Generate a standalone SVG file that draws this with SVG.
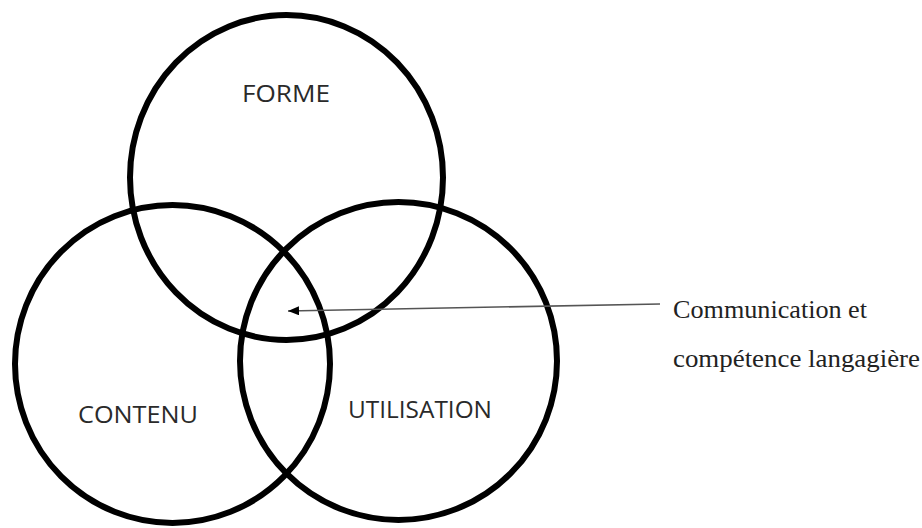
<svg xmlns="http://www.w3.org/2000/svg" width="922" height="528" viewBox="0 0 922 528">
<style>
.c{fill:none;stroke:#000;stroke-width:6}
.lbl{font-family:"Open Sans","Liberation Sans",sans-serif;font-size:23px;fill:#2a2a2a}
.note{font-family:"Liberation Serif","DejaVu Serif",serif;font-size:25px;fill:#222}
</style>
<defs>
<marker id="ah" viewBox="0 0 11 9" refX="11" refY="4.5" markerWidth="11" markerHeight="9" markerUnits="userSpaceOnUse" orient="auto">
<path d="M0,0 L11,4.5 L0,9 Z" fill="#000"/>
</marker>
</defs>
<rect width="922" height="528" fill="#fff"/>
<g id="forme">
<ellipse class="c" cx="286.5" cy="177.5" rx="156.5" ry="162.5"/>
<text class="lbl" x="242" y="102" textLength="88" lengthAdjust="spacingAndGlyphs">FORME</text>
</g>
<g id="contenu">
<ellipse class="c" cx="172.5" cy="364" rx="157.5" ry="159"/>
<text class="lbl" x="78" y="423" textLength="120" lengthAdjust="spacingAndGlyphs">CONTENU</text>
</g>
<g id="utilisation">
<ellipse class="c" cx="398.5" cy="361" rx="158.5" ry="159"/>
<text class="lbl" x="348" y="418" textLength="144" lengthAdjust="spacingAndGlyphs">UTILISATION</text>
</g>
<g id="connectors">
<line x1="660" y1="304" x2="288" y2="311" stroke="#555" stroke-width="1.6" marker-end="url(#ah)"/>
</g>
<g id="note">
<text class="note" x="673" y="318" textLength="194" lengthAdjust="spacingAndGlyphs">Communication et</text>
<text class="note" x="673" y="367" textLength="247" lengthAdjust="spacingAndGlyphs">compétence langagière</text>
</g>
</svg>
